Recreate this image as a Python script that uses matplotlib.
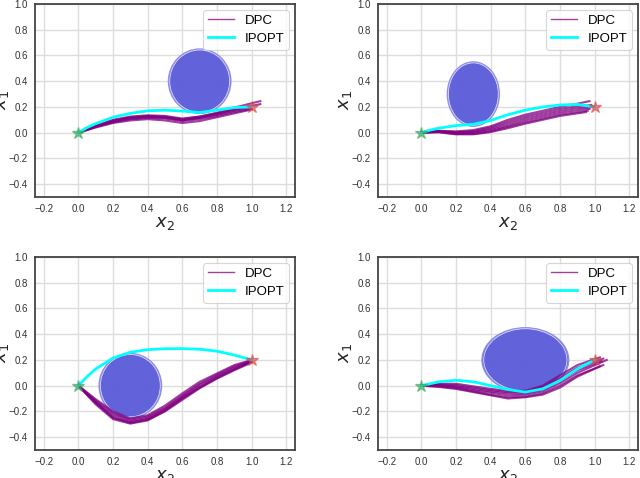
import matplotlib
matplotlib.use("Agg")
import matplotlib.pyplot as plt
from matplotlib.patches import Ellipse

plt.rcParams['font.family'] = ['Liberation Sans', 'DejaVu Sans']
plt.rcParams['mathtext.fontset'] = 'dejavusans'

# ---------------- data ----------------
x_grid = [0.0, 0.1, 0.2, 0.3, 0.4, 0.5, 0.6, 0.7, 0.8, 0.9, 1.0]

# Panel 1 (top-left)
tl_obstacle = (0.7, 0.4, 0.36, 0.5)   # centre x2, centre x1, width, height
tl_ipopt_x = [0.0, 0.05, 0.1, 0.2, 0.3, 0.4, 0.5, 0.6, 0.7, 0.8, 0.9, 1.0]
tl_ipopt_y = [0.0, 0.04, 0.07, 0.12, 0.15, 0.17, 0.175, 0.168, 0.157, 0.175, 0.195, 0.2]
tl_dpc_xend = [1.0, 1.0, 1.0, 1.0, 1.05, 1.05]
tl_dpc_y = [
    [0, .055, .10, .125, .135, .13, .11, .125, .15, .18, .20],
    [0, .05, .09, .115, .125, .12, .10, .115, .14, .17, .195],
    [0, .045, .08, .105, .115, .11, .09, .105, .13, .16, .185],
    [0, .04, .075, .095, .105, .095, .075, .09, .12, .15, .18],
    [0, .05, .095, .12, .13, .125, .105, .125, .155, .195, .245],
    [0, .045, .085, .11, .12, .115, .095, .115, .145, .18, .222],
]

# Panel 2 (top-right)
tr_obstacle = (0.3, 0.3, 0.3, 0.5)
tr_ipopt_x = [0.0, 0.05, 0.1, 0.2, 0.3, 0.4, 0.5, 0.6, 0.7, 0.8, 0.9, 1.0]
tr_ipopt_y = [0.0, 0.02, 0.035, 0.055, 0.065, 0.095, 0.14, 0.175, 0.2, 0.215, 0.22, 0.2]
tr_dpc_xend = [0.97, 0.98, 1.0, 0.97, 0.96, 0.95]
tr_dpc_y = [
    [0, .015, .01, .02, .05, .10, .14, .17, .20, .225, .245],
    [0, .012, .005, .012, .04, .085, .125, .155, .185, .205, .215],
    [0, .01, 0, .005, .03, .07, .11, .14, .17, .19, .20],
    [0, .008, -.005, 0, .02, .055, .095, .125, .155, .175, .185],
    [0, .005, -.01, -.01, .01, .045, .08, .11, .14, .16, .17],
    [0, .003, -.013, -.013, .005, .035, .07, .10, .13, .15, .16],
]

# Panel 3 (bottom-left)
bl_obstacle = (0.3, 0.0, 0.36, 0.5)
bl_ipopt_x = [0.0, 0.05, 0.1, 0.2, 0.3, 0.4, 0.5, 0.6, 0.7, 0.8, 0.9, 1.0]
bl_ipopt_y = [0.0, 0.07, 0.13, 0.215, 0.26, 0.28, 0.287, 0.288, 0.283, 0.268, 0.238, 0.2]
bl_dpc_xend = [1.0, 1.0, 1.0, 1.0, 1.0, 1.0]
bl_dpc_y = [
    [0, -.105, -.20, -.255, -.23, -.155, -.06, .03, .095, .16, .20],
    [0, -.115, -.215, -.265, -.24, -.17, -.075, .015, .085, .15, .195],
    [0, -.125, -.23, -.275, -.25, -.18, -.085, .005, .075, .14, .19],
    [0, -.135, -.245, -.285, -.26, -.19, -.095, -.01, .065, .13, .185],
    [0, -.145, -.26, -.295, -.27, -.20, -.11, -.02, .055, .12, .18],
    [0, -.13, -.25, -.29, -.265, -.195, -.10, -.015, .06, .125, .19],
]

# Panel 4 (bottom-right)
br_obstacle = (0.6, 0.2, 0.5, 0.5)
br_ipopt_x = [0.0, 0.1, 0.2, 0.3, 0.4, 0.5, 0.6, 0.7, 0.8, 0.9, 1.0]
br_ipopt_y = [0.0, 0.03, 0.042, 0.03, 0.0, -0.03, -0.05, -0.025, 0.04, 0.13, 0.2]
br_dpc_xend = [1.03, 1.05, 1.04, 1.07, 1.05, 1.03]
br_dpc_y = [
    [0, .015, .015, -.005, -.025, -.04, -.04, 0, .08, .16, .22],
    [0, .01, .005, -.015, -.035, -.05, -.05, -.015, .06, .14, .21],
    [0, .005, -.005, -.025, -.045, -.06, -.06, -.03, .04, .12, .19],
    [0, 0, -.01, -.035, -.055, -.075, -.07, -.045, .02, .10, .20],
    [0, -.005, -.02, -.045, -.07, -.09, -.085, -.06, 0, .08, .16],
    [0, -.01, -.025, -.05, -.075, -.10, -.09, -.07, -.015, .07, .15],
]

start_pt = (0.0, 0.0)
goal_pt = (1.0, 0.2)
x_ticks = [-0.2, 0.0, 0.2, 0.4, 0.6, 0.8, 1.0, 1.2]
y_ticks = [-0.4, -0.2, 0.0, 0.2, 0.4, 0.6, 0.8, 1.0]

panels = [
    ((35, 4), tl_obstacle, tl_ipopt_x, tl_ipopt_y, tl_dpc_xend, tl_dpc_y),
    ((378, 4), tr_obstacle, tr_ipopt_x, tr_ipopt_y, tr_dpc_xend, tr_dpc_y),
    ((35, 257), bl_obstacle, bl_ipopt_x, bl_ipopt_y, bl_dpc_xend, bl_dpc_y),
    ((378, 257), br_obstacle, br_ipopt_x, br_ipopt_y, br_dpc_xend, br_dpc_y),
]

W, H = 640, 478
fig = plt.figure(figsize=(6.4, 4.78), dpi=100)
fig.patch.set_facecolor('white')

for (px, py), obs, ix, iy, xend, dys in panels:
    ax = fig.add_axes([px / W, 1 - (py + 193) / H, 260 / W, 193 / H])
    ax.set_facecolor('white')
    ax.set_xlim(-0.25, 1.25)
    ax.set_ylim(-0.5, 1.0)
    ax.set_xticks(x_ticks)
    ax.set_yticks(y_ticks)
    ax.grid(True, color='#dddddd', linewidth=1.0, zorder=0)
    ax.set_axisbelow(True)
    for s in ax.spines.values():
        s.set_color('#444444')
        s.set_linewidth(1.3)
    ax.tick_params(length=0, labelsize=7, colors='#333333', pad=5)

    cx, cy, w, h = obs
    ax.add_patch(Ellipse((cx, cy), w, h, facecolor='#5a5ad8', edgecolor='#8c8ce8',
                         linewidth=1.0, alpha=0.95, zorder=2))
    ax.add_patch(Ellipse((cx, cy), w * 0.96, h * 0.97, facecolor='none',
                         edgecolor='white', linewidth=0.6, alpha=0.8, zorder=2))

    for k, ys in enumerate(dys):
        xs = x_grid[:-1] + [xend[k]]
        ax.plot(xs, ys, color='purple', linewidth=1.5, alpha=0.75, zorder=3,
                label='DPC' if k == 0 else None)
    ax.plot(ix, iy, color='cyan', linewidth=2.0, zorder=4, label='IPOPT')
    ax.plot(*start_pt, marker='*', markersize=9, color='#3aa35a', alpha=0.6, zorder=5)
    ax.plot(*goal_pt, marker='*', markersize=9, color='#e04545', alpha=0.6, zorder=5)

    leg = ax.legend(loc='upper right', fontsize=9.5, frameon=True, fancybox=True,
                    borderpad=0.35, handlelength=2.0, handletextpad=0.8,
                    labelspacing=0.45, borderaxespad=0.45)
    leg.get_frame().set_edgecolor('#cccccc')
    leg.get_frame().set_linewidth(0.8)
    leg.get_lines()[0].set_linewidth(1.0)
    leg.get_lines()[0].set_alpha(0.75)
    leg.get_lines()[1].set_linewidth(2.0)

    ax.set_xlabel('$x_2$', fontsize=13, labelpad=1, color='#222222')
    ax.set_ylabel('$x_1$', fontsize=13, color='#222222')
    ax.yaxis.set_label_coords(-0.092, 0.5)

fig.savefig('out.png', dpi=100, facecolor='white')
